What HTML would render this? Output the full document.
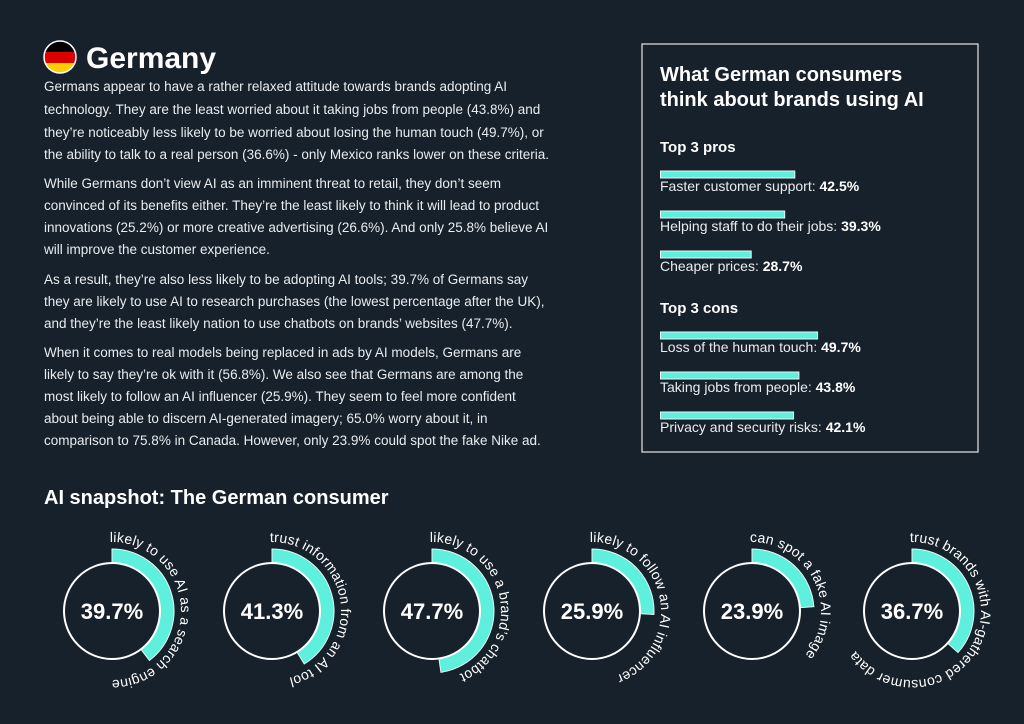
<!DOCTYPE html>
<html><head><meta charset="utf-8"><style>
html,body{margin:0;padding:0;background:#17212c;}
svg{display:block;font-family:"Liberation Sans",sans-serif;}
</style></head><body>
<svg id="root" width="1024" height="724" viewBox="0 0 1024 724">
<rect width="1024" height="724" fill="#17212c"/>
<defs><clipPath id="flagclip"><circle cx="60" cy="57" r="16"/></clipPath></defs>
<g clip-path="url(#flagclip)">
<rect x="44" y="41" width="32" height="11" fill="#000"/>
<rect x="44" y="52" width="32" height="11" fill="#dd0000"/>
<rect x="44" y="63" width="32" height="11" fill="#ffce00"/>
</g>
<circle cx="60" cy="57" r="16" fill="none" stroke="#fff" stroke-width="1.5"/>
<text x="86" y="68" font-size="30" font-weight="bold" fill="#fff">Germany</text>
<g id="para" fill="#e8ecef" font-size="13.5"></g>

<rect x="642" y="44" width="336" height="408" fill="none" stroke="#e6e6e6" stroke-width="1.2"/>
<text x="660" y="81" font-size="20" font-weight="bold" fill="#fff">What German consumers</text>
<text x="660" y="106" font-size="20" font-weight="bold" fill="#fff">think about brands using AI</text>
<g id="bars"></g>

<text x="44" y="504" font-size="20" font-weight="bold" fill="#fff">AI snapshot: The German consumer</text>
<g id="donuts"></g>
</svg>
<script>
const NS="http://www.w3.org/2000/svg";
function mk(tag,attrs,parent){const e=document.createElementNS(NS,tag);for(const k in attrs)e.setAttribute(k,attrs[k]);parent.appendChild(e);return e;}

const lines=[
[91,"Germans appear to have a rather relaxed attitude towards brands adopting AI"],
[114,"technology. They are the least worried about it taking jobs from people (43.8%) and"],
[137,"they’re noticeably less likely to be worried about losing the human touch (49.7%), or"],
[159,"the ability to talk to a real person (36.6%) - only Mexico ranks lower on these criteria."],
[188,"While Germans don’t view AI as an imminent threat to retail, they don’t seem"],
[210,"convinced of its benefits either. They’re the least likely to think it will lead to product"],
[232,"innovations (25.2%) or more creative advertising (26.6%). And only 25.8% believe AI"],
[254,"will improve the customer experience."],
[284,"As a result, they’re also less likely to be adopting AI tools; 39.7% of Germans say"],
[306,"they are likely to use AI to research purchases (the lowest percentage after the UK),"],
[328,"and they’re the least likely nation to use chatbots on brands’ websites (47.7%)."],
[357,"When it comes to real models being replaced in ads by AI models, Germans are"],
[379,"likely to say they’re ok with it (56.8%). We also see that Germans are among the"],
[401,"most likely to follow an AI influencer (25.9%). They seem to feel more confident"],
[423,"about being able to discern AI-generated imagery; 65.0% worry about it, in"],
[445,"comparison to 75.8% in Canada. However, only 23.9% could spot the fake Nike ad."]];
const para=document.getElementById('para');
lines.forEach(l=>{const t=mk('text',{x:44,y:l[0]},para);t.textContent=l[1];

});

const proLabels=["Faster customer support","Helping staff to do their jobs","Cheaper prices"];
const proValues=[42.5,39.3,28.7];
const conLabels=["Loss of the human touch","Taking jobs from people","Privacy and security risks"];
const conValues=[49.7,43.8,42.1];
const barsG=document.getElementById('bars');
const pxPerPct=3.16;
function section(title,ty,labels,values,prefix){
  const h=mk('text',{x:660,y:ty,'font-size':15,'font-weight':'bold',fill:'#fff'},barsG);h.textContent=title;
  
  
  values.forEach((v,i)=>{
    const by=ty+19+i*40;
    const r=mk('rect',{x:660.5,y:by,width:v*pxPerPct,height:7,fill:'#5ef0dc',stroke:'#e8f5f2','stroke-width':1},barsG);
    
    
    const t=mk('text',{x:660,y:by+20,'font-size':14,fill:'#e8ecef'},barsG);
    t.textContent=labels[i]+': ';
    const b=mk('tspan',{'font-weight':'bold',fill:'#fff'},t);b.textContent=v.toFixed(1)+'%';
    
    
  });
}
section('Top 3 pros',152,proLabels,proValues,'pro');
section('Top 3 cons',313,conLabels,conValues,'con');

const donutValues=[39.7,41.3,47.7,25.9,23.9,36.7];
const donutLabels=["likely to use AI as a search engine","trust information from an AI tool","likely to use a brand’s chatbot","likely to follow an AI influencer","can spot a fake AI image","trust brands with AI-gathered consumer data"];
const dg=document.getElementById('donuts');
const cy=611, r0=48, r1=62, rt=69;
function pt(cx,r,a){return [cx+r*Math.sin(a),cy-r*Math.cos(a)];}
donutValues.forEach((v,i)=>{
  const cx=112+i*160;
  const a=v/100*2*Math.PI;
  const p1=pt(cx,r1,0),p2=pt(cx,r1,a),p3=pt(cx,r0,a),p4=pt(cx,r0,0);
  const lg=a>Math.PI?1:0;
  const arc=mk('path',{d:`M${p1[0]},${p1[1]} A${r1},${r1} 0 ${lg} 1 ${p2[0]},${p2[1]} L${p3[0]},${p3[1]} A${r0},${r0} 0 ${lg} 0 ${p4[0]},${p4[1]} Z`,fill:'#5ef0dc',stroke:'#e8f5f2','stroke-width':1},dg);
  
  
  const c=mk('circle',{cx:cx,cy:cy,r:r0,fill:'#17212c',stroke:'#fff','stroke-width':2},dg);
  
  
  const t=mk('text',{x:cx,y:cy+8,'text-anchor':'middle','font-size':22,'font-weight':'bold',fill:'#fff'},dg);
  t.textContent=v.toFixed(1)+'%';
  
  
  const s=-0.03;
  const q1=pt(cx,rt,s),q2=pt(cx,rt,s+Math.PI),q3=pt(cx,rt,s+2*Math.PI-0.001);
  mk('path',{id:'tp'+i,d:`M${q1[0]},${q1[1]} A${rt},${rt} 0 0 1 ${q2[0]},${q2[1]} A${rt},${rt} 0 0 1 ${q3[0]},${q3[1]}`,fill:'none'},dg);
  const lt=mk('text',{'font-size':14,fill:'#fff','letter-spacing':0.2},dg);
  const tp=mk('textPath',{href:'#tp'+i},lt);tp.textContent=donutLabels[i];
  
  
});
</script>
</body></html>
